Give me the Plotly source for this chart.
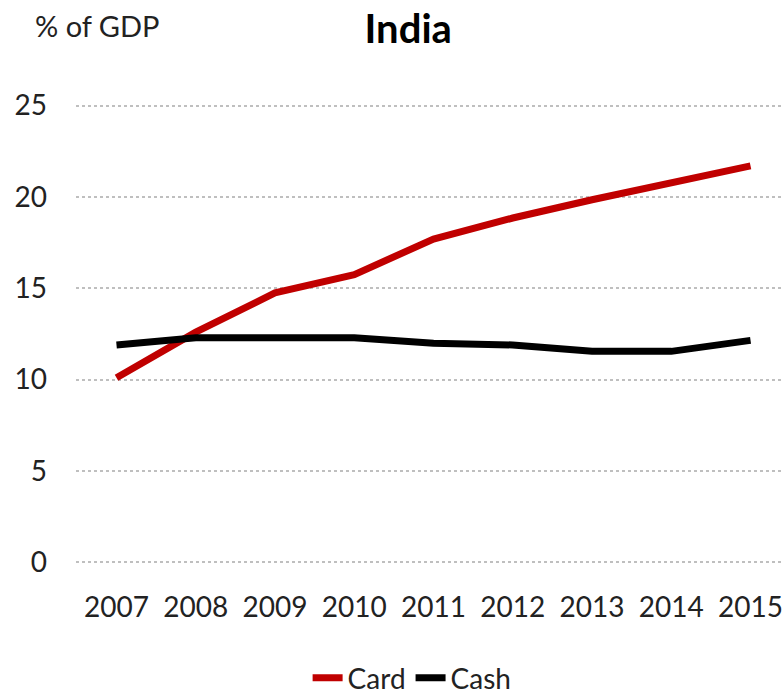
import plotly.graph_objects as go

years = [2007, 2008, 2009, 2010, 2011, 2012, 2013, 2014, 2015]
card = [10.1, 12.6, 14.75, 15.75, 17.7, 18.85, 19.85, 20.8, 21.7]
cash = [11.9, 12.3, 12.3, 12.3, 12.0, 11.9, 11.55, 11.55, 12.15]
y_ticks = [0, 5, 10, 15, 20, 25]

FONT = "Lato, Open Sans, sans-serif"

fig = go.Figure()
fig.add_trace(go.Scatter(x=years, y=card, name="Card", mode="lines",
                         line=dict(color="#c00000", width=7)))
fig.add_trace(go.Scatter(x=years, y=cash, name="Cash", mode="lines",
                         line=dict(color="#000000", width=7)))

# y range padded slightly so the 0 and 25 gridlines are drawn inside the plot area
pad = 0.2
px_per_unit = (562 - 106) / 25
t_m = int(round(106 - pad * px_per_unit))
b_m = int(round(132 - pad * px_per_unit))
plot_h = 694 - t_m - b_m
fig.update_layout(
    width=782, height=694,
    margin=dict(l=76, r=0, t=t_m, b=b_m),
    paper_bgcolor="white", plot_bgcolor="white",
    font=dict(family=FONT, size=28, color="#222222"),
    title=dict(text="<b>India</b>", x=0.522, xref="container", xanchor="center",
               y=1 - 29 / 694, yref="container", yanchor="middle",
               font=dict(family=FONT, size=40, color="#000000")),
    showlegend=True,
    legend=dict(orientation="h", xref="container", yref="container",
                x=0.527, xanchor="center", y=(694 - 678) / 694, yanchor="middle",
                font=dict(family=FONT, size=28, color="#222222"),
                itemwidth=30, tracegroupgap=0),
    annotations=[dict(text="% of GDP", xref="paper", yref="paper",
                      x=-43 / 706, y=1 + (t_m - 25) / plot_h, xanchor="left", yanchor="middle",
                      showarrow=False, font=dict(family=FONT, size=29, color="#222222"))],
)

fig.update_xaxes(range=[2006.489, 2015.397], tickmode="array", tickvals=years,
                 ticktext=[str(y) for y in years], showgrid=False, zeroline=False,
                 showline=False, ticks="", ticklabelstandoff=22, ticklabeloverflow="allow")
fig.update_yaxes(range=[-pad, 25 + pad], tickmode="array", tickvals=y_ticks,
                 showgrid=True, gridcolor="#bfbfbf", griddash="dot", gridwidth=1.5,
                 zeroline=False, showline=False, ticks="", ticklabelstandoff=28)

fig.write_html("out.html")
